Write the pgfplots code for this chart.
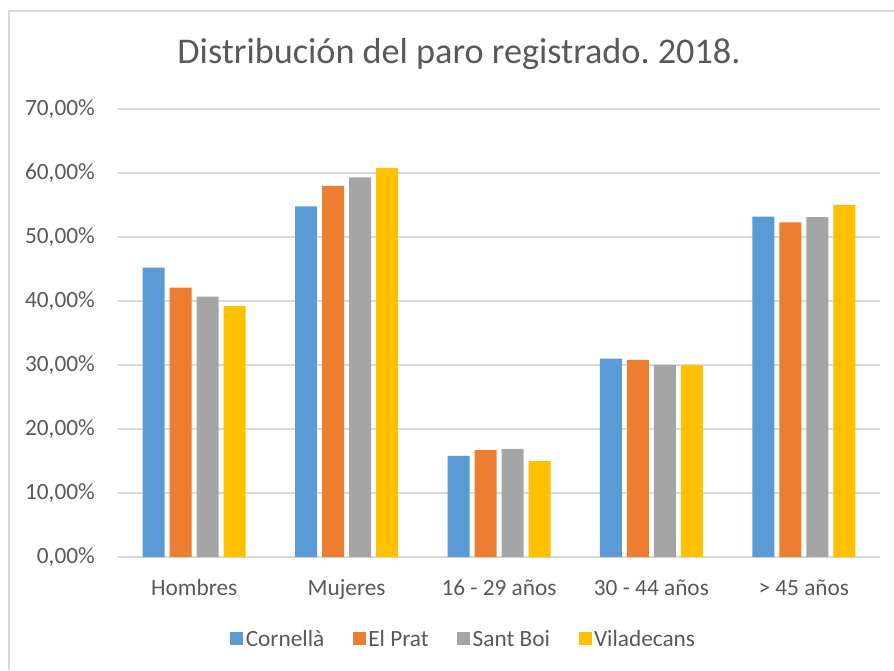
\documentclass[border=0pt]{standalone}
\usepackage{pgfplots}
\pgfplotsset{compat=1.18}
\usepackage{fontspec}
\setmainfont{Carlito}
\frenchspacing
\definecolor{cblue}{HTML}{5B9BD5}
\definecolor{corange}{HTML}{ED7D31}
\definecolor{cgray}{HTML}{A5A5A5}
\definecolor{cgold}{HTML}{FFC000}
\definecolor{gridc}{HTML}{D9D9D9}
\definecolor{txt}{HTML}{595959}
\begin{document}
\begin{tikzpicture}[x=1pt,y=1pt]
\useasboundingbox (0,0) rectangle (894,670);
\draw[color=gridc, line width=1.5pt] (9,0) -- (9,659) -- (894,659);
\node[anchor=base, inner sep=0pt, font=\fontsize{36.2}{40}\selectfont, text=txt] at (459,606) {Distribución del paro registrado. 2018.};
\begin{axis}[
  at={(118pt,113pt)}, anchor=south west,
  scale only axis, width=762pt, height=448pt,
  ymin=0, ymax=70, xmin=-0.5, xmax=4.5,
  ybar=5pt, bar width=22pt,
  axis x line=bottom, axis y line=left,
  y axis line style={draw=none},
  x axis line style={gridc, line width=1.5pt, -},
  major tick length=0pt,
  xtick={0,1,2,3,4},
  xticklabels={Hombres,Mujeres,16 - 29 años,30 - 44 años,> 45 años},
  ytick={0,10,20,30,40,50,60,70},
  yticklabels={0{,}00\%,10{,}00\%,20{,}00\%,30{,}00\%,40{,}00\%,50{,}00\%,60{,}00\%,70{,}00\%},
  ymajorgrids, grid style={gridc, line width=1.5pt},
  tick label style={font=\fontsize{23.3}{28}\selectfont, text=txt},
  xticklabel style={anchor=base, inner sep=0pt, yshift=-38pt},
  yticklabel style={anchor=east, inner sep=0pt, xshift=-23pt},
  /pgf/number format/assume math mode=true,
  legend columns=-1,
  legend style={at={(0.454,-0.183)}, anchor=center, draw=none, fill=none,
    font=\fontsize{23.3}{28}\selectfont, text=txt,
    /tikz/every even column/.append style={column sep=26pt},
    nodes={inner sep=2.5pt}},
  legend image code/.code={\fill[#1] (0pt,-6.5pt) rectangle (13pt,6.5pt);},
]
\addplot[fill=cblue, draw=none] coordinates {(0,45.2) (1,54.8) (2,15.8) (3,31.0) (4,53.2)};
\addplot[fill=corange, draw=none] coordinates {(0,42.1) (1,58.0) (2,16.7) (3,30.8) (4,52.3)};
\addplot[fill=cgray, draw=none] coordinates {(0,40.7) (1,59.3) (2,16.9) (3,30.0) (4,53.1)};
\addplot[fill=cgold, draw=none] coordinates {(0,39.2) (1,60.8) (2,15.0) (3,30.0) (4,55.0)};
\legend{Cornellà,El Prat,Sant Boi,Viladecans}
\end{axis}
\end{tikzpicture}
\end{document}
